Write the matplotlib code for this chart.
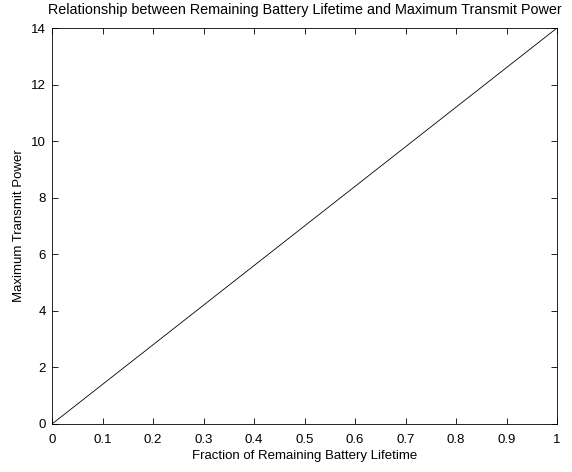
import numpy as np
import matplotlib
matplotlib.use('Agg')
import matplotlib.pyplot as plt

plt.rcParams['font.family'] = ['Liberation Sans', 'DejaVu Sans']

battery_fraction = [0, 1]
max_power = [0, 14]

x_ticks = [0, 0.1, 0.2, 0.3, 0.4, 0.5, 0.6, 0.7, 0.8, 0.9, 1]
x_labels = ['0', '0.1', '0.2', '0.3', '0.4', '0.5', '0.6', '0.7', '0.8', '0.9', '1']
y_ticks = [0, 2, 4, 6, 8, 10, 12, 14]

fig = plt.figure(figsize=(5.72, 4.72), dpi=100)
ax = fig.add_axes([52 / 572, 1 - 424 / 472, (557 - 52) / 572, (424 - 28) / 472])

ax.plot(battery_fraction, max_power, color='black', linewidth=0.6)

ax.set_xlim(0, 1)
ax.set_ylim(0, 14)
ax.set_xticks(x_ticks)
ax.set_xticklabels(x_labels)
ax.set_yticks(y_ticks)
ax.tick_params(direction='in', top=True, right=True, labelsize=9.5, length=4, width=0.6)
ax.tick_params(axis='x', pad=7)
ax.tick_params(axis='y', pad=4.5)
for s in ax.spines.values():
    s.set_linewidth(0.6)

ax.set_xlabel('Fraction of Remaining Battery Lifetime', fontsize=9.5, labelpad=3)
ax.set_ylabel('Maximum Transmit Power', fontsize=9.5, labelpad=4.5)
ax.set_title('Relationship between Remaining Battery Lifetime and Maximum Transmit Power', fontsize=10.4, pad=10)

fig.savefig('out.png', dpi=100)
